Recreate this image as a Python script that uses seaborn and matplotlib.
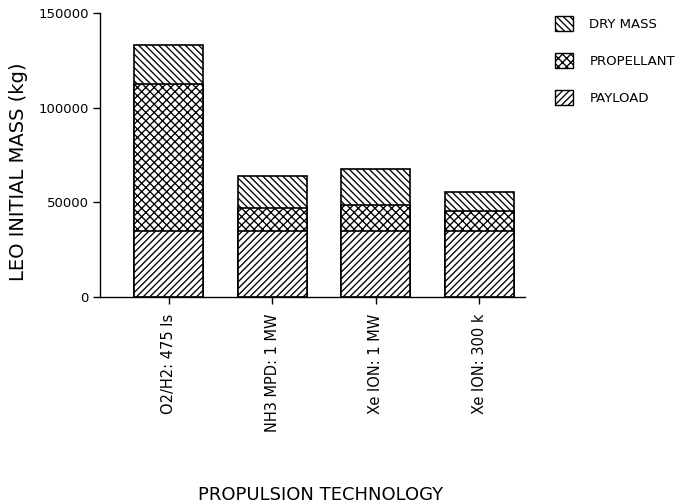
import matplotlib
matplotlib.use("Agg")
import matplotlib.pyplot as plt
import matplotlib.patches as mpatches
import seaborn as sns
import numpy as np
import pandas as pd

categories = ["O2/H2: 475 Is", "NH3 MPD: 1 MW", "Xe ION: 1 MW", "Xe ION: 300 k"]
payload = [35000, 35000, 35000, 35000]
propellant = [77600, 12200, 13400, 10200]
dry_mass = [20700, 16500, 19200, 10500]
legend_labels = ["DRY MASS", "PROPELLANT", "PAYLOAD"]
y_ticks = [0, 50000, 100000, 150000]

sns.set_style("ticks")
plt.rcParams["font.family"] = ["DejaVu Sans"]
plt.rcParams["text.color"] = "black"
plt.rcParams["axes.labelcolor"] = "black"
plt.rcParams["xtick.color"] = "black"
plt.rcParams["ytick.color"] = "black"
plt.rcParams["hatch.linewidth"] = 0.95
plt.rcParams["hatch.color"] = "black"

payload_arr = np.array(payload, dtype=float)
prop_top = payload_arr + np.array(propellant, dtype=float)
total = prop_top + np.array(dry_mass, dtype=float)

df = pd.DataFrame({"tech": categories, "payload": payload_arr,
                   "prop_top": prop_top, "total": total})

fig = plt.figure(figsize=(6.83, 5.03), dpi=100)
ax = fig.add_axes([100 / 683, 1 - 297 / 503, 425 / 683, 284 / 503])

hatches = {"total": "\\\\\\\\\\", "prop_top": "xxxx", "payload": "/////"}
for col in ["total", "prop_top", "payload"]:
    sns.barplot(data=df, x="tech", y=col, color="white", saturation=1,
                edgecolor="black", linewidth=1.2, hatch=hatches[col],
                width=0.667, ax=ax, errorbar=None)

ax.set_xlim(-0.664, 3.44)
ax.set_ylim(0, 150000)
ax.set_yticks(y_ticks)
ax.set_yticklabels([str(v) for v in y_ticks], fontsize=9.5)
ax.set_xticks(range(len(categories)))
ax.set_xticklabels(categories, rotation=90, fontsize=10.5, va="top")
ax.tick_params(axis="x", length=5, width=1, pad=7, direction="out")
ax.tick_params(axis="y", length=5, width=1, pad=3, direction="out")
for s in ["top", "right"]:
    ax.spines[s].set_visible(False)
for s in ["left", "bottom"]:
    ax.spines[s].set_linewidth(1.0)
    ax.spines[s].set_color("black")

ax.set_ylabel("LEO INITIAL MASS (kg)", fontsize=14)
ax.yaxis.set_label_coords(-0.17, 0.44)
ax.set_xlabel("PROPULSION TECHNOLOGY", fontsize=13)
ax.xaxis.set_label_coords(0.52, -0.665)

handles = [mpatches.Patch(facecolor="white", edgecolor="black", linewidth=1.0,
                          hatch=hatches[c]) for c in ["total", "prop_top", "payload"]]
fig.legend(handles, legend_labels, loc="upper left",
           bbox_to_anchor=(555 / 683, 1 - 16 / 503), bbox_transform=fig.transFigure,
           frameon=False, fontsize=9.5, handlelength=1.4, handleheight=1.4,
           handletextpad=1.2, labelspacing=1.65, borderpad=0, borderaxespad=0)

fig.savefig("out.png", dpi=100)
